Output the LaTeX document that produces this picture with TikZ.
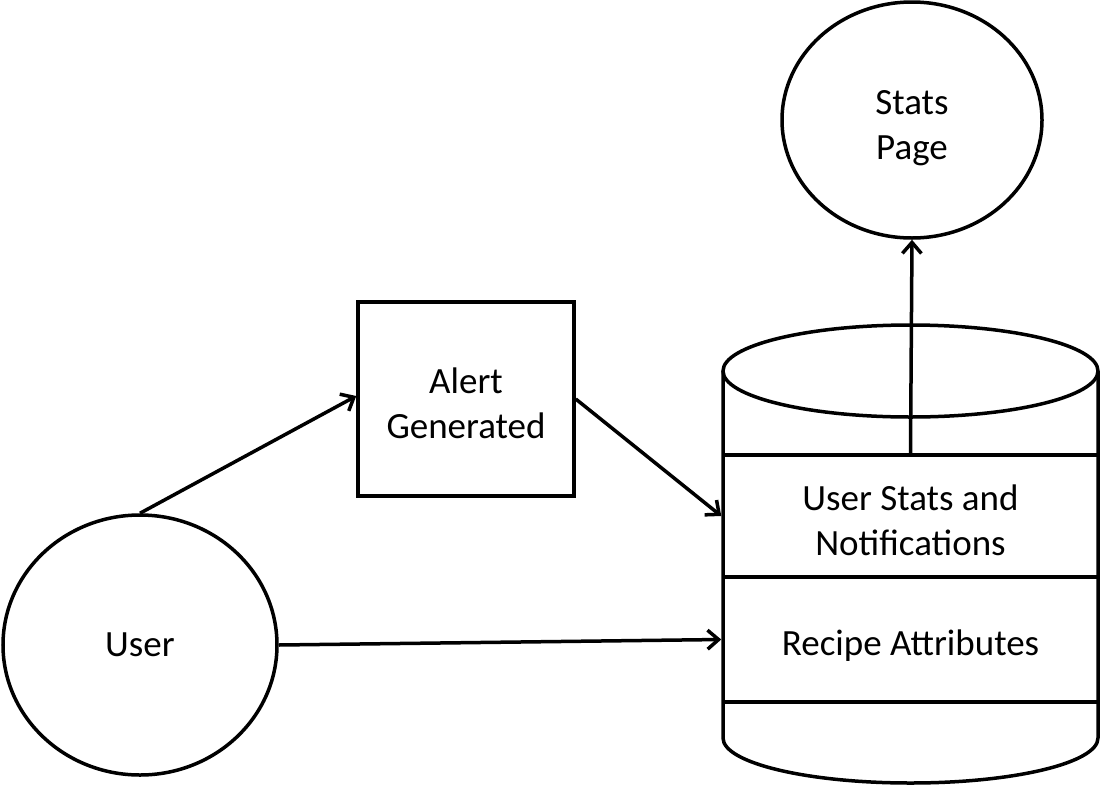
\documentclass[tikz,border=0pt]{standalone}
\usepackage{fontspec}
\setmainfont{Carlito}
\usetikzlibrary{shapes.geometric,arrows.meta}
\begin{document}
\begin{tikzpicture}[x=1pt,y=-1pt,line width=3.5pt,
  font=\fontsize{37}{45}\selectfont,
  oval/.style={ellipse,draw,inner sep=0pt,align=center},
  box/.style={rectangle,draw,inner sep=0pt,align=center},
  seg/.style={rectangle,inner sep=0pt,align=center,minimum width=375pt},
  arr/.style={-{Straight Barb[length=11pt,width=19pt,line width=3.5pt]}}]
\useasboundingbox (0,0) rectangle (1101,785);
% cylinder
\draw (723,371) -- (723,738) arc[start angle=180,end angle=0,x radius=187.5,y radius=45] -- (1098,371);
\draw (910.5,371) ellipse[x radius=187.5,y radius=46];
\draw (723,455) -- (1098,455);
\draw (723,577) -- (1098,577);
\draw (723,702) -- (1098,702);
\node[seg,minimum height=122pt,text height=80pt] (us) at (910.5,516) {User Stats and\\Notifications};
\node[seg,minimum height=125pt,text height=38pt] (ra) at (910.5,639.5) {Recipe Attributes};
% other nodes
\node[oval,minimum width=274pt,minimum height=260pt] (user) at (140,645) {User};
\node[oval,minimum width=260pt,minimum height=236pt,text height=86pt] (stats) at (912,120) {Stats\\Page};
\node[box,minimum width=216pt,minimum height=194pt,text height=80pt] (alert) at (466,399) {Alert\\Generated};
% connectors
\draw[arr] (user.north) -- ([yshift=3pt]alert.west);
\draw[arr] (alert.east) -- (us.west);
\draw[arr] (user.east) -- (ra.west);
\draw[arr] (us.north) -- (stats.south);
\end{tikzpicture}
\end{document}
